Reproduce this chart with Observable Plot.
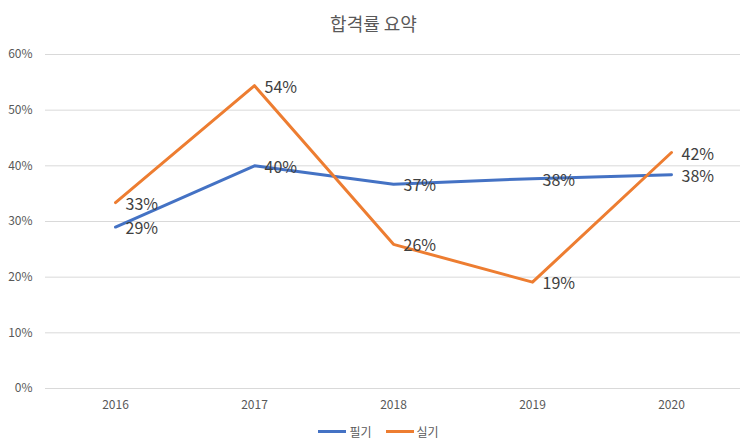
<!DOCTYPE html>
<html><head><meta charset="utf-8">
<script src="https://cdn.jsdelivr.net/npm/d3@7"></script>
<script src="https://cdn.jsdelivr.net/npm/@observablehq/plot@0.6"></script>
<style>
body{margin:0;background:#fff;font-family:"Noto Sans CJK KR","Noto Sans",sans-serif;}
#title{height:40px;line-height:46px;text-align:center;font-size:18px;color:#595959;}
#legend{display:flex;justify-content:center;gap:14px;font-size:12px;color:#595959;margin-top:2px;padding-left:10px;}
#legend span.item{display:flex;align-items:center;gap:3px;}
#legend span.sw{display:inline-block;width:28px;height:3px;}
</style></head>
<body>
<div id="title">합격률 요약</div>
<div id="chart"></div>
<div id="legend"></div>
<script>
const years = ["2016","2017","2018","2019","2020"];
const written = [0.29, 0.40, 0.367, 0.377, 0.384];
const practical = [0.334, 0.544, 0.259, 0.191, 0.424];
const seriesNames = ["필기","실기"];
const colors = ["#4472C4","#ED7D31"];
const yTicks = [0,0.1,0.2,0.3,0.4,0.5,0.6];

const data = [];
years.forEach((y,i)=>{
  data.push({year:y, value:written[i], series:seriesNames[0]});
  data.push({year:y, value:practical[i], series:seriesNames[1]});
});
const pct = d3.format(".0%");

const chart = Plot.plot({
  width:747, height:381,
  marginTop:14, marginLeft:45, marginRight:7, marginBottom:33,
  style:{fontFamily:'"Noto Sans CJK KR","Noto Sans",sans-serif', fontSize:"12px", color:"#595959", background:"#fff"},
  x:{type:"point", domain:years, padding:0.5, label:null, tickSize:0, tickPadding:12},
  y:{domain:[0,0.6], ticks:yTicks, tickFormat:pct, label:null, tickSize:0, tickPadding:13},
  color:{domain:seriesNames, range:colors},
  marks:[
    Plot.gridY(yTicks,{stroke:"#d9d9d9", strokeOpacity:1, strokeWidth:1}),
    Plot.axisY({ticks:yTicks, tickFormat:pct, tickSize:0, tickPadding:13, label:null, fill:"#595959"}),
    Plot.axisX({tickSize:0, tickPadding:12, label:null, fill:"#595959"}),
    Plot.line(data,{x:"year", y:"value", z:"series", stroke:"series", strokeWidth:3, strokeLinejoin:"round", strokeLinecap:"round"}),
    Plot.text(data,{x:"year", y:"value", text:d=>pct(d.value), dx:10, dy:2, textAnchor:"start", fontSize:16, fill:"#404040"})
  ]
});
document.getElementById("chart").appendChild(chart);

const lg = document.getElementById("legend");
seriesNames.forEach((n,i)=>{
  const it = document.createElement("span"); it.className="item";
  const sw = document.createElement("span"); sw.className="sw"; sw.style.background=colors[i];
  const t = document.createElement("span"); t.textContent=n;
  it.appendChild(sw); it.appendChild(t); lg.appendChild(it);
});
</script>
</body></html>
